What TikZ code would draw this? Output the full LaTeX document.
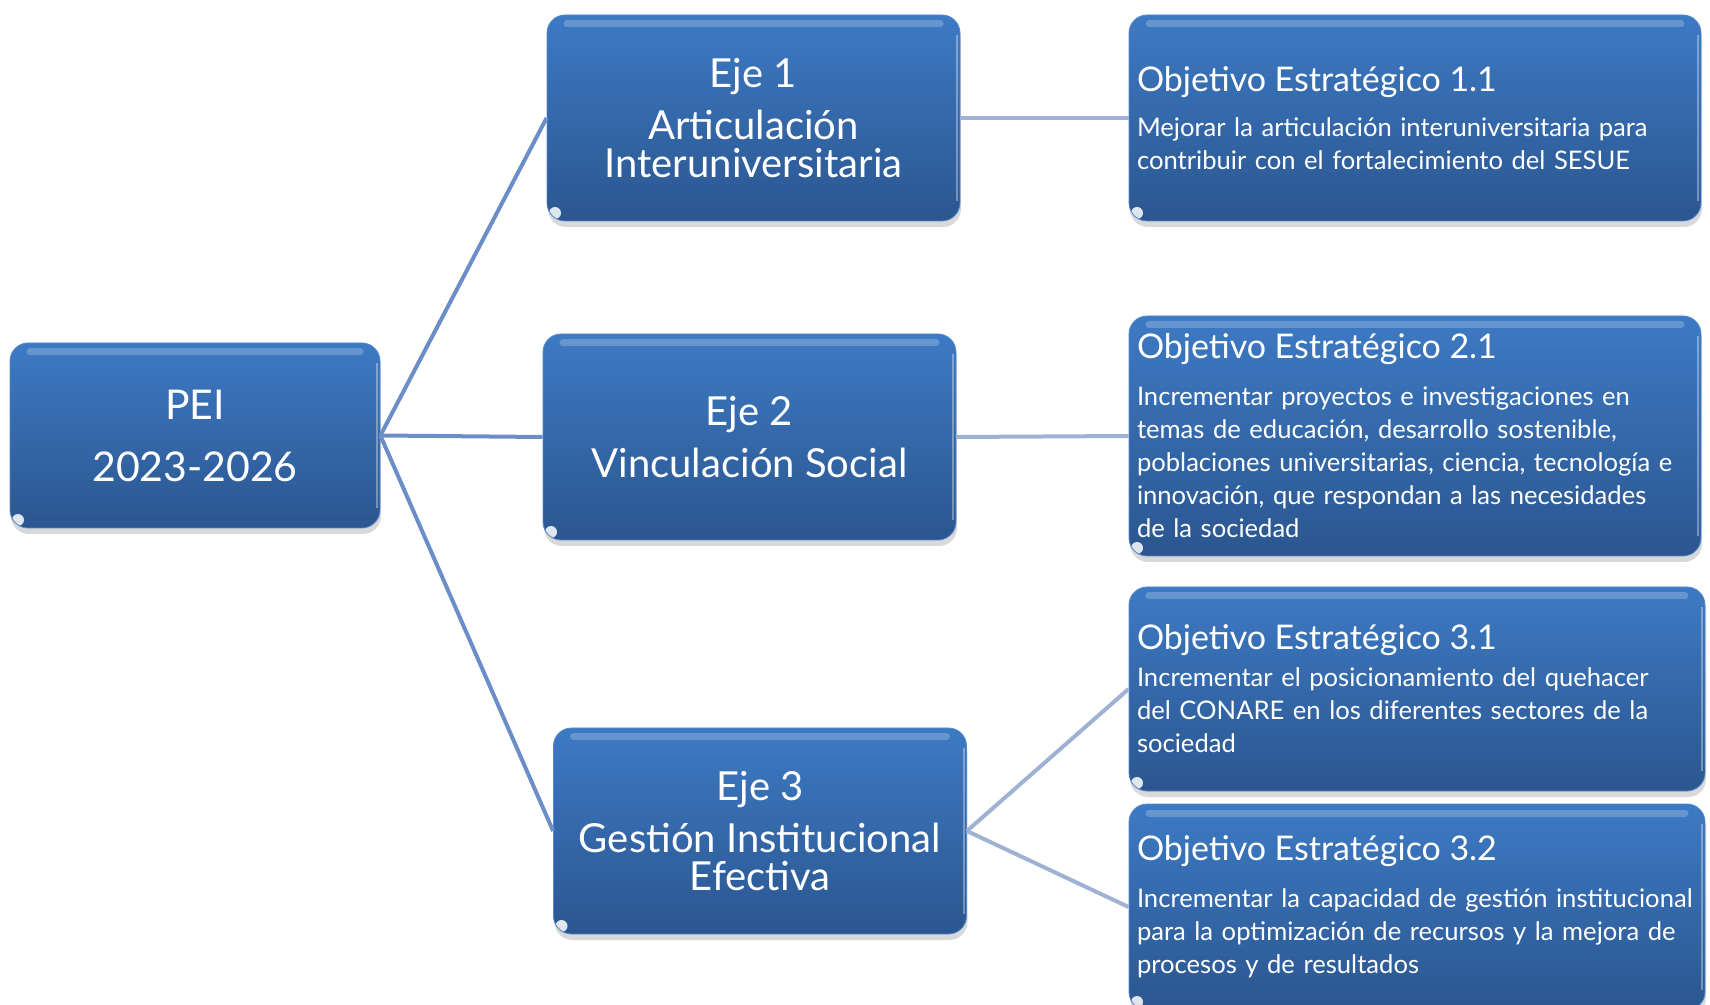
\documentclass[tikz,border=0pt]{standalone}
\usepackage{fontspec}
\setmainfont{Lato}
\usepackage{tikz}
\usetikzlibrary{shadows}
\definecolor{boxtop}{RGB}{61,122,196}
\definecolor{boxbottom}{RGB}{43,86,143}
\definecolor{boxedge}{RGB}{84,136,204}
\definecolor{linkdark}{RGB}{108,142,200}
\definecolor{linklight}{RGB}{160,178,212}
\newcommand{\peifont}{\fontsize{20.5}{21}\selectfont}
\newcommand{\ejefont}{\fontsize{20}{19}\selectfont}
\newcommand{\objhead}{\fontsize{17}{16.5}\selectfont}
\newcommand{\objbody}{\fontsize{12.8}{16.5}\selectfont}

\begin{document}
\begin{tikzpicture}[x=0.5pt,y=-0.5pt]
\tikzstyle{block}=[rectangle, rounded corners=9pt, draw=boxedge, thin,
  top color=boxtop, bottom color=boxbottom, text=white,
  drop shadow={shadow xshift=0.5pt, shadow yshift=-3pt, opacity=0.3},
  path picture={
    \draw[white, opacity=0.22, line width=3.5pt, line cap=round]
      ([xshift=10pt,yshift=-4.5pt]path picture bounding box.north west) --
      ([xshift=-10pt,yshift=-4.5pt]path picture bounding box.north east);
    \draw[white, opacity=0.35, line width=1pt]
      ([xshift=-1.5pt,yshift=-10pt]path picture bounding box.north east) --
      ([xshift=-1.5pt,yshift=10pt]path picture bounding box.south east);
    \fill[white, opacity=0.85]
      ([xshift=4pt,yshift=4pt]path picture bounding box.south west) circle (3pt);
  }]
\tikzstyle{eje}=[block, minimum width=206.5pt, minimum height=103pt, align=center, font=\ejefont]
\tikzstyle{obj}=[block, minimum height=103pt, inner xsep=4pt, text width=278pt, align=left, font=\objbody]
\tikzstyle{link}=[line width=2pt, draw=linkdark]
\tikzstyle{sublink}=[line width=2pt, draw=linklight]
\useasboundingbox (0,0) rectangle (1710,1005);
	\node[block, minimum width=185pt, minimum height=92.5pt, align=center, font=\peifont] (pei) at (195,435.5) {PEI\\[10pt]2023-2026};

	\node[eje] (eje1) at (753.5,118) {Eje 1\\[7pt]Articulación\\Interuniversitaria};
	\node[eje] (eje2) at (749.5,437) {Eje 2\\[7pt]Vinculación Social};
	\node[eje] (eje3) at (760,831) {Eje 3\\[7pt]Gestión Institucional\\Efectiva};

	\node[obj] (obj11) at (1415,118) {{\objhead Objetivo Estratégico 1.1}\\[6pt]Mejorar la articulación interuniversitaria para\\contribuir con el fortalecimiento del SESUE};
	\node[obj, minimum height=120pt] (obj21) at (1415,436) {{\objhead Objetivo Estratégico 2.1}\\[7pt]Incrementar proyectos e investigaciones en\\temas de educación, desarrollo sostenible,\\poblaciones universitarias, ciencia, tecnología e\\innovación, que respondan a las necesidades\\de la sociedad};
	\node[obj, text width=280pt, minimum height=102pt] (obj31) at (1417,689) {{\objhead Objetivo Estratégico 3.1}\\[2pt]Incrementar el posicionamiento del quehacer\\del CONARE en los diferentes sectores de la\\sociedad};
	\node[obj, text width=280pt] (obj32) at (1417,907) {{\objhead Objetivo Estratégico 3.2}\\[7pt]Incrementar la capacidad de gestión institucional\\para la optimización de recursos y la mejora de\\procesos y de resultados};

	\path
		(pei.east) edge [link] (eje1.west)
		(pei.east) edge [link] (eje2.west)
		(pei.east) edge [link] (eje3.west)
		(eje1.east) edge [sublink] (obj11.west)
		(eje2.east) edge [sublink] (obj21.west)
		(eje3.east) edge [sublink] (obj31.west)
		(eje3.east) edge [sublink] (obj32.west);

\end{tikzpicture}
\end{document}
